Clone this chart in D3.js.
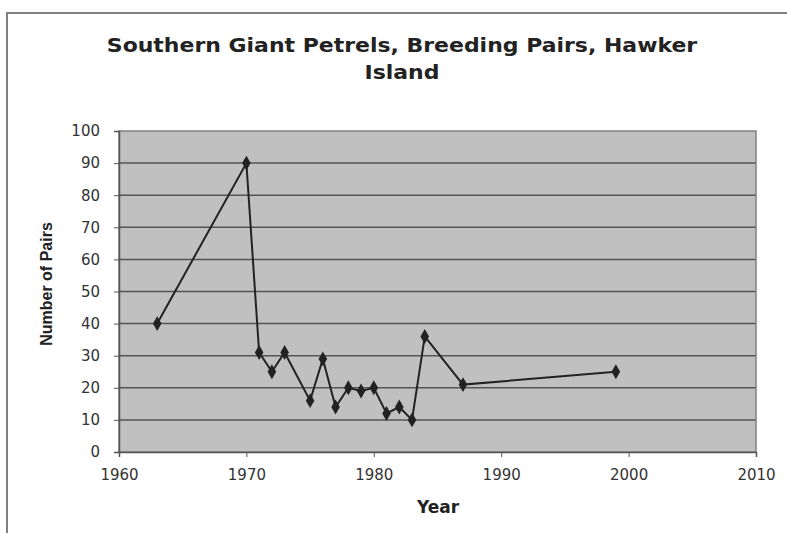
<!DOCTYPE html>
<html><head><meta charset="utf-8">
<script src="https://cdn.jsdelivr.net/npm/d3@7"></script>
<style>body{margin:0;background:#fff}svg{display:block}</style>
</head><body><svg id="c" width="787" height="533"></svg>
<script>
const years = [1963,1970,1971,1972,1973,1975,1976,1977,1978,1979,1980,1981,1982,1983,1984,1987,1999];
const pairs = [40,90,31,25,31,16,29,14,20,19,20,12,14,10,36,21,25];
const xTicks = [1960,1970,1980,1990,2000,2010];
const yTicks = [0,10,20,30,40,50,60,70,80,90,100];
const titleLines = ["Southern Giant Petrels, Breeding Pairs, Hawker","Island"];
const xTitle = "Year", yTitle = "Number of Pairs";

const svg = d3.select("#c");
const L=119, R=756, T=131, B=452;
const x = d3.scaleLinear().domain([1960,2010]).range([L,R]);
const y = d3.scaleLinear().domain([0,100]).range([B,T]);
const DV = "DejaVu Sans, sans-serif", LS = "Liberation Sans, Arial, sans-serif";

// outer frame
svg.append("path").attr("d",`M7,533 L7,13 L787,13`).attr("fill","none").attr("stroke","#808080").attr("stroke-width",2);

// plot area
svg.append("rect").attr("x",L).attr("y",T).attr("width",R-L).attr("height",B-T).attr("fill","#c0c0c0");
svg.append("g").selectAll("line").data(yTicks.filter(d=>d>0&&d<100)).join("line")
  .attr("x1",L).attr("x2",R).attr("y1",d=>y(d)).attr("y2",d=>y(d))
  .attr("stroke","#555").attr("stroke-width",1.5);
svg.append("rect").attr("x",L).attr("y",T).attr("width",R-L).attr("height",B-T).attr("fill","none").attr("stroke","#808080").attr("stroke-width",1.5);

const xa = svg.append("g").attr("transform",`translate(0,${B})`)
  .call(d3.axisBottom(x).tickValues(xTicks).tickFormat(d3.format("d")).tickSize(5).tickPadding(12));
const ya = svg.append("g").attr("transform",`translate(${L},0)`)
  .call(d3.axisLeft(y).tickValues(yTicks).tickSize(5).tickPadding(14));
[xa,ya].forEach(a=>{
  a.select(".domain").attr("stroke","#555").attr("stroke-width",1.5);
  a.selectAll(".tick line").attr("stroke","#555");
  a.selectAll("text").attr("font-family",DV).attr("font-size",15).attr("fill","#333");
});

// line + markers
const data = years.map((d,i)=>({year:d,v:pairs[i]}));
svg.append("path").datum(data)
  .attr("d",d3.line().x(d=>x(d.year)).y(d=>y(d.v)))
  .attr("fill","none").attr("stroke","#222").attr("stroke-width",2);
svg.append("g").selectAll("path").data(data).join("path")
  .attr("transform",d=>`translate(${x(d.year)},${y(d.v)})`)
  .attr("d",d3.symbol(d3.symbolDiamond,64)).attr("fill","#222");

// titles
svg.append("g").attr("transform","translate(402,0) scale(1.157,1)")
  .selectAll("text").data(titleLines).join("text")
  .attr("x",0).attr("y",(d,i)=>52+i*27).attr("text-anchor","middle")
  .attr("font-family",DV).attr("font-weight","bold").attr("font-size",19).attr("fill","#222")
  .text(d=>d);
svg.append("text").attr("x",438).attr("y",513).attr("text-anchor","middle")
  .attr("font-family",DV).attr("font-weight","bold").attr("font-size",17).attr("fill","#222").text(xTitle);
svg.append("text").attr("transform","translate(52,284) rotate(-90)").attr("text-anchor","middle")
  .attr("font-family",LS).attr("font-weight","bold").attr("font-size",16).attr("fill","#222").text(yTitle);
</script></body></html>
